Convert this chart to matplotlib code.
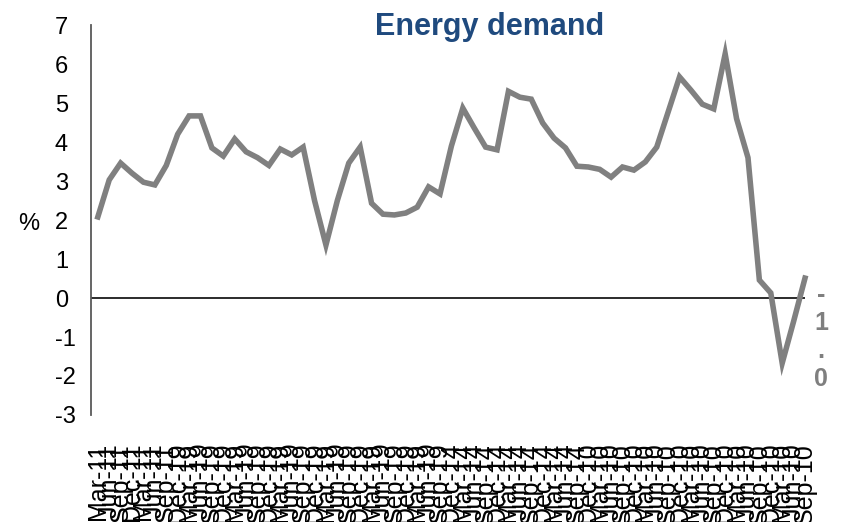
import matplotlib
matplotlib.use("Agg")
import matplotlib.pyplot as plt
import numpy as np

plt.rcParams["font.family"] = ["Liberation Sans", "DejaVu Sans"]

# energy demand growth, %
demand = [2.08, 3.03, 3.46, 3.20, 2.97, 2.90, 3.40, 4.20, 4.67, 4.67,
          3.85, 3.64, 4.08, 3.75, 3.60, 3.40, 3.82, 3.67, 3.87, 2.50,
          1.36, 2.50, 3.46, 3.87, 2.43, 2.15, 2.13, 2.18, 2.33, 2.85,
          2.67, 3.90, 4.87, 4.36, 3.87, 3.80, 5.30, 5.15, 5.10, 4.49,
          4.10, 3.85, 3.38, 3.36, 3.30, 3.10, 3.36, 3.28, 3.49, 3.87,
          4.77, 5.67, 5.33, 4.97, 4.85, 6.26, 4.60, 3.60, 0.46, 0.13,
          -1.67, -0.60, 0.51]

# category labels (garbled, overlapping in the original)
months = ["Mar", "Jun", "Sep", "Dec"]
last_digits = ["1"] * 7 + ["9"] * 24 + ["4"] * 12 + ["0"] * 20
labels = [f"{months[i % 4]}-1{d}" for i, d in enumerate(last_digits)]

yticks = list(range(-3, 8))
end_label = "-\n1\n.\n0"

fig = plt.figure(figsize=(8.44, 5.22), dpi=100)
ax = fig.add_axes([0.1078, 0.205, 0.846, 0.747])

x = np.arange(len(demand))
ax.plot(x, demand, color="#808080", lw=4.0, solid_joinstyle="miter",
        clip_on=False, zorder=3)
ax.axhline(0, color="#1a1a1a", lw=1.3, zorder=2)

ax.set_xlim(-0.6, 61.3)
ax.set_ylim(-3, 7)
ax.set_yticks(yticks)
ax.set_yticklabels([str(v) for v in yticks], fontsize=17)
for t in ax.get_yticklabels():
    t.set_horizontalalignment("left")
ax.tick_params(axis="y", length=0, pad=26)

ax.set_xticks(x)
ax.set_xticklabels(labels, rotation=90, fontsize=18)
ax.tick_params(axis="x", length=0, pad=20)

for s in ["top", "right", "bottom"]:
    ax.spines[s].set_visible(False)
ax.spines["left"].set_color("#595959")
ax.spines["left"].set_linewidth(1.3)

ax.text(-0.087, 0.49, "%", transform=ax.transAxes, fontsize=17,
        ha="center", va="center")
ax.text(x[-1] + 1.4, 0.38, end_label, fontsize=18, fontweight="bold",
        color="#7f7f7f", ha="center", va="top", linespacing=1.2)

fig.text(0.58, 0.933, "Energy demand", fontsize=22, fontweight="bold",
         color="#1f4a7e", ha="center", va="baseline")

fig.savefig("out.png", dpi=100)
